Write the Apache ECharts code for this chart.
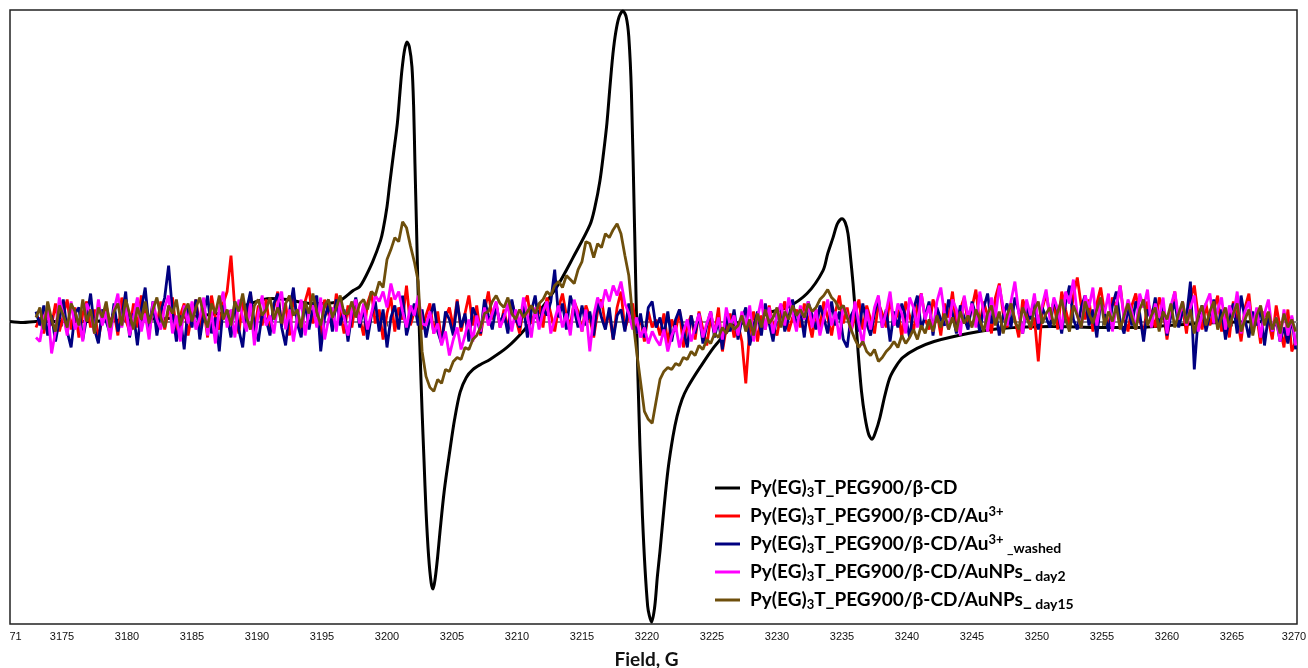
<!DOCTYPE html>
<html>
<head>
<meta charset="utf-8">
<script src="https://cdn.jsdelivr.net/npm/echarts@6/dist/echarts.min.js"></script>
<style>
html, body { margin: 0; padding: 0; background: #fff; }
#chart { width: 1308px; height: 668px; }
</style>
</head>
<body>
<div id="chart"></div>
<script>
// x axis ticks (G)
var tickValues = [3171, 3175, 3180, 3185, 3190, 3195, 3200, 3205, 3210, 3215, 3220, 3225, 3230,
    3235, 3240, 3245, 3250, 3255, 3260, 3265, 3270];
var tickLabels = ['71', '3175', '3180', '3185', '3190', '3195', '3200', '3205', '3210', '3215', '3220',
    '3225', '3230', '3235', '3240', '3245', '3250', '3255', '3260', '3265', '3270'];

var seriesNames = [
    'Py(EG)3T_PEG900/β-CD',
    'Py(EG)3T_PEG900/β-CD/Au3+',
    'Py(EG)3T_PEG900/β-CD/Au3+_washed',
    'Py(EG)3T_PEG900/β-CD/AuNPs_day2',
    'Py(EG)3T_PEG900/β-CD/AuNPs_day15'
];
var legendLabels = [
    'Py(EG){sub|3}T_PEG900/β-CD',
    'Py(EG){sub|3}T_PEG900/β-CD/Au{sup|3+}',
    'Py(EG){sub|3}T_PEG900/β-CD/Au{sup|3+}{small| _washed}',
    'Py(EG){sub|3}T_PEG900/β-CD/AuNPs_{small| day2}',
    'Py(EG){sub|3}T_PEG900/β-CD/AuNPs_{small| day15}'
];

// black trace, field / signal (arb. units)
var blackField = [3171.0, 3172.0, 3173.0, 3175.0, 3177.0, 3179.0, 3181.0, 3183.0, 3185.0, 3187.0, 3188.0,
    3189.5, 3191.0, 3192.3, 3194.1, 3195.4, 3196.4, 3197.4, 3197.9, 3198.2, 3198.9, 3199.5, 3199.7,
    3200.0, 3200.2, 3200.5, 3200.8, 3201.0, 3201.15, 3201.35, 3201.54, 3201.72, 3201.92, 3202.05,
    3202.15, 3202.27, 3202.38, 3202.53, 3202.69, 3202.85, 3203.0, 3203.2, 3203.4, 3203.54, 3203.7,
    3203.9, 3204.08, 3204.4, 3204.85, 3205.2, 3205.62, 3206.1, 3206.62, 3207.2, 3207.92,
    3209.23, 3210.46, 3211.77, 3213.08, 3214.31, 3215.62, 3216.0, 3216.38, 3216.65,
    3216.92, 3217.15, 3217.38, 3217.6, 3217.85, 3218.15, 3218.4, 3218.6, 3218.8, 3219.05, 3219.3,
    3219.65, 3220.05, 3220.36, 3220.6, 3220.8, 3221.0, 3221.3, 3221.62, 3222.0,
    3222.31, 3222.7, 3223.08, 3224.08, 3225.38, 3227.15, 3227.92, 3229.23, 3230.77, 3232.31, 3233.54,
    3233.9, 3234.31, 3234.65, 3235.0, 3235.25, 3235.46, 3235.65, 3235.85, 3236.05, 3236.23, 3236.5,
    3236.77, 3237.05, 3237.31, 3237.6, 3237.92, 3238.3, 3238.69, 3239.2, 3239.69, 3240.77, 3242.08,
    3244.69, 3247.23, 3251.15, 3255.0, 3257.6, 3260.15, 3264.0, 3267.9];
var blackSignal = [0, -1, 0, 0, 0, 1, 2, 3, 5, 8, 10,
    18, 23, 22, 18, 18, 21, 31, 35, 41, 60, 81, 92,
    115, 137, 168, 199, 230, 252, 272, 280, 275, 255, 215,
    158, 95, 35, -25, -87, -140, -189, -235, -262, -268, -258,
    -235, -210, -170, -128, -98, -71, -56, -48, -43, -38,
    -26, -10, 11, 35, 64, 97, 115, 141, 168,
    199, 235, 268, 290, 305, 311, 305, 285, 230, 90, -55,
    -195, -285, -301, -285, -255, -230, -188, -148, -115,
    -95, -78, -67, -46, -22, -1, -4, 8, 14, 28, 51,
    68, 84, 98, 103, 99, 88, 65, 38, 5, -29, -70,
    -96, -113, -118, -110, -96, -74, -56, -44, -36, -27, -20,
    -12, -7, -5, -6, -6, -4, -1, 0];

// noisy traces, sampled from 3173.0 G every 0.3 G
var noiseStart = 3173.0;
var noiseStep = 0.3;

var redSignal = [
    -6, 4, -12, 10, -4, 18, -10, 6, 22, -8, 14, -16, 8, 20, -6, 12, -18, 4, 16, -2,
    10, -14, 24, 2, -10, 18, -6, 26, 8, -12, 16, -4, 20, -8, 12, 24, -10, 6, 18, -14,
    8, 22, -6, 14, -16, 26, 4, -8, 18, 30, 66, 12, -12, 20, 2, 28, -10, 16, -4, 22,
    -8, 14, 30, -4, 18, -14, 24, 6, -10, 20, 34, -2, 12, -16, 22, 8, -6, 28, 10, -12,
    16, -6, 22, 4, -14, 18, 30, -2, 12, -18, 8, 24, -10, 14, 2, 36, -4, 10, 20, -8,
    6, 18, -12, 10, -20, 4, 14, -6, 22, -10, 8, 26, -4, 16, -14, 10, 30, 2, 18, -6,
    12, -8, 20, 4, -12, 16, 26, -2, 10, 18, -6, 24, 8, -10, 14, 28, 6, -4, 20, 10,
    -10, 16, 4, -16, 10, 22, -4, 8, -18, 14, 30, -8, 6, 18, -12, 4, -20, 10, -6, 2,
    -14, 8, -22, 2, -10, 12, -26, -4, 6, -18, 10, -8, -24, 4, -12, 14, -30, -6, 8, -16,
    -2, -20, -62, -8, 10, -20, 6, -8, 16, -4, -14, 8, 20, -10, 4, 12, -6, 18, 2, -16,
    12, -6, 20, 4, -14, 10, 26, -2, 14, -10, 6, 22, -8, 16, 2, -12, 18, 8, -6, 24,
    -4, 12, -16, 20, 6, -10, 16, 28, 2, -8, 22, 10, -14, 18, 4, 30, -6, 12, 24, -2,
    14, 32, -4, 20, 6, -12, 24, 38, 8, -6, 18, 2, -16, 22, 10, -8, 4, -40, 12, 28,
    6, 20, -8, 30, 12, -4, 26, 44, 16, 2, 22, -10, 18, 34, 8, -6, 24, 14, 36, 4,
    -10, 16, 28, 2, -14, 20, 8, -6, 24, 12, -18, 10, 30, -4, 14, -12, 22, 36, 6, -8,
    18, -4, 12, 26, -10, 8, -16, 20, 4, -20, 14, 28, -8, 6, -22, 10, 2, -18, 16, -6,
    -26, 12, -30, -20];

var navySignal = [
    10, -4, 16, -14, 6, -20, 2, 22, -10, -26, 8, 14, -18, 4, 28, -8, -22, 12, 0, -12,
    18, -10, 4, 30, -16, 8, -24, 12, 34, -6, 20, -14, 10, 24, 56, 10, -20, 6, -28, 14,
    -6, 22, -18, 8, 26, -12, 4, -30, 16, 6, -16, 20, -8, -26, 12, 30, -4, -20, 8, 2,
    -14, 18, 28, -6, -24, 10, 34, -2, -16, 20, -8, 14, 26, -30, 4, 16, -10, 22, -4, 12,
    -20, 8, 24, -6, 14, -18, 6, 20, -10, 12, -26, 4, 16, -8, 26, -14, 2, 18, -4, 12,
    -16, 4, 18, -10, -22, 10, 2, -14, 20, -6, 8, -20, 14, 4, -12, 22, 6, -8, 16, -2,
    8, -12, 22, 2, -6, 16, -16, 10, 26, -4, 14, 6, 20, 52, 4, 18, -8, 26, 12, -6,
    16, -4, 10, -14, 20, 4, -8, 14, -18, 6, 12, -10, 18, 2, -12, 8, -16, 14, 20, -6,
    4, -14, 10, -20, 2, 12, -8, -26, 6, -12, 8, -22, -4, 10, -16, 2, -28, 6, -10, 12,
    -18, 2, 14, -24, -6, 10, -14, 18, -2, -20, 8, 16, -10, 4, 22, -6, 12, -16, 20, 6,
    -8, 16, 4, -12, 20, -4, 10, -18, -26, 6, 14, -10, 18, -2, -14, 8, 24, -6, 12, -20,
    10, -6, 18, 4, -16, 12, 26, -8, 6, 20, -14, 14, 2, -4, 22, 8, -12, 16, 4, -8,
    20, 6, -10, 14, 28, -2, 12, -14, 6, 18, -6, 24, 10, -12, 16, 2, 20, -8, 14, 4,
    -6, 22, 10, -12, 18, 36, 2, -8, 14, 26, -4, 12, -16, 20, 8, -10, 16, 30, 0, -12,
    14, -4, 20, 8, -20, 12, 2, 24, -8, 16, -14, 6, 20, -6, 10, 4, 40, -48, 4, 16,
    -10, 8, 22, -6, 12, -18, 4, 18, -12, 26, 2, -16, 10, -4, 14, -24, 6, -10, 2, -20,
    -6, -22, 4, -28];

var magentaSignal = [
    -16, -20, 4, 14, -32, -10, 24, 6, -14, 20, -8, 2, -20, 18, 8, -12, 22, -4, 10, -18,
    12, 28, -6, 16, -14, 4, 24, -10, 8, -18, 20, 2, -8, 14, 26, -12, 6, -20, 16, -2,
    20, -8, 4, 24, -14, 10, -22, 14, 30, -6, 12, -16, 22, 4, -10, 18, -24, 8, 26, -4,
    6, -12, 18, 30, -8, 12, -20, 4, 22, -14, 10, 16, -6, 24, -18, 2, 14, -10, 20, 4,
    -14, 12, 22, -2, 18, -8, 8, 26, 20, 30, 14, 38, 22, 30, 10, -6, 16, 6, 26, -2,
    -4, 10, -12, -2, -24, -10, -34, -18, -6, -28, -14, 2, -20, 6, -10, 14, -4, 8, 20, -6,
    4, 18, -10, 12, -4, 24, 6, -16, 14, -8, 10, 20, -12, 2, 16, -6, 8, -14, 22, 4,
    -10, 12, -30, 6, 24, 14, 32, 20, 36, 26, 40, 18, 8, -8, 4, -16, -6, -22, -10, -18,
    -24, -8, -30, -14, -4, -26, -10, 2, -20, -6, 8, -16, -2, 10, -12, 4, -18, 14, -4, 6,
    -14, 10, -6, 16, -20, 4, 22, -8, 14, -12, 6, 18, -4, 24, 8, -10, 16, 2, 20, -6,
    12, -14, 4, 22, -4, 10, -18, 16, 6, -10, 20, -2, -24, 12, -8, 14, 26, -6, 10, 30,
    -4, 18, 8, -12, 24, 14, -6, 28, 2, 16, -10, 20, 34, 6, -8, 22, 12, -14, 26, 4,
    18, -6, 30, 10, -10, 24, 4, 36, 14, -4, 20, 40, 8, -12, 22, 6, 28, -2, 16, 32,
    2, 24, 12, -8, 30, 18, 42, 6, -6, 26, 14, 34, -4, 20, 8, 28, -10, 16, 36, 2,
    22, 10, -8, 28, 14, 32, -6, 18, 4, 24, -12, 16, 30, 2, 20, -4, 14, 26, -10, 8,
    18, 28, -2, 12, 24, -8, 16, 4, 30, -12, 10, 20, -6, 14, -16, 8, 22, -10, 4, -20,
    12, -14, 6, -24];

var brownSignal = [
    4, 14, -8, 20, 2, -10, 16, 6, -6, 18, 10, -4, 22, 0, 12, -12, 14, 4, 20, -6,
    10, 18, -4, 22, 8, -8, 14, 2, 20, -2, 12, 24, 4, -6, 16, 8, 22, -4, 10, 18,
    0, 14, 24, 6, -6, 18, 8, 26, 2, 12, -4, 20, 10, 28, 4, -8, 16, 22, 6, 12,
    24, 2, 14, -2, 18, 26, 6, 12, -6, 20, 8, 28, 10, -4, 16, 22, 4, 14, 26, 8,
    8, 20, 4, 18, 22, 12, 30, 26, 40, 34, 62, 72, 84, 80, 100, 94, 76, 60, 40, -30,
    -55, -66, -70, -58, -62, -48, -50, -40, -36, -38, -26, -28, -18, -14, -6, 8, 10, 20, 26, 18,
    14, 24, 8, 2, 12, 4, 10, 16, 8, 18, 22, 30, 26, 36, 40, 34, 46, 42, 38, 52,
    60, 80, 78, 64, 78, 74, 88, 84, 92, 98, 88, 66, 46, 4, -30, -60, -90, -98, -102, -80,
    -58, -50, -46, -48, -42, -44, -36, -38, -30, -34, -24, -28, -18, -22, -12, -16, -6, -12, -2, -8,
    -4, 6, -10, 2, -14, 8, -6, 12, -2, 4, 14, -6, 10, 2, 16, 6, 12, 4, 18, 10,
    14, 22, 26, 32, 24, 20, 12, 16, 4, -8, -18, -26, -20, -30, -34, -28, -40, -36, -30, -26,
    -20, -26, -14, -22, -16, -8, -18, -4, -12, 2, -10, 6, -6, 8, -8, 4, -10, 10, -2, 6,
    -6, 12, 2, -10, 8, 16, -4, 10, -12, 6, 18, 0, -8, 14, 4, -6, 12, 20, -2, 8,
    14, -4, 10, 22, 2, -10, 16, 6, -6, 20, 8, -2, 12, 24, -4, 10, 0, 16, -8, 6,
    18, 4, -8, 12, 22, -4, 6, 14, -10, 10, 2, 18, -6, 8, 20, -2, 12, -12, 6, 16,
    -4, 10, 20, -8, 4, 14, -6, 8, 18, -10, 2, 12, -14, 6, 16, -4, 10, -8, 4, -12,
    8, -6, 2, -10];

var colors = ['#000000', '#ff0000', '#000080', '#ff00ff', '#6e4f0c'];

function sweep(values)
{
    var out = [];
    for (var i = 0; i < values.length; i++)
        out.push([Math.round((noiseStart + i * noiseStep) * 10) / 10, values[i]]);
    return out;
}

function pairs(xs, ys)
{
    var out = [];
    for (var i = 0; i < xs.length; i++)
        out.push([xs[i], ys[i]]);
    return out;
}

function trace(idx, data, smooth, width)
{
    return {
        name: seriesNames[idx],
        type: 'line',
        data: data,
        showSymbol: false,
        smooth: smooth,
        itemStyle: { color: colors[idx] },
        lineStyle: { color: colors[idx], width: width },
        z: 2 + idx
    };
}

var myChart = echarts.init(document.getElementById('chart'));

var option = {
    animation: false,
    backgroundColor: '#fff',
    grid: {
        left: 10, right: 11, top: 10, bottom: 44,
        outerBoundsMode: 'none',
        show: true, borderColor: '#222', borderWidth: 1.5
    },
    legend: {
        orient: 'vertical',
        left: 715, top: 477,
        padding: 0,
        itemGap: 6,
        itemWidth: 25, itemHeight: 3,
        icon: 'rect',
        data: seriesNames,
        formatter: function (name) {
            return legendLabels[seriesNames.indexOf(name)];
        },
        textStyle: {
            fontFamily: 'Lato', fontWeight: 'bold', fontSize: 19, color: '#000', lineHeight: 22,
            padding: [0, 0, 0, 5],
            rich: {
                sub: { fontFamily: 'Lato', fontWeight: 'bold', fontSize: 13, lineHeight: 13, verticalAlign: 'bottom', color: '#000' },
                sup: { fontFamily: 'Lato', fontWeight: 'bold', fontSize: 13, lineHeight: 13, verticalAlign: 'top', color: '#000' },
                small: { fontFamily: 'Lato', fontWeight: 'bold', fontSize: 14, lineHeight: 20, verticalAlign: 'bottom', color: '#000' }
            }
        }
    },
    xAxis: {
        type: 'value',
        min: 3171, max: 3270,
        name: 'Field, G',
        nameLocation: 'middle',
        nameGap: 26,
        nameTextStyle: { fontFamily: 'Lato', fontWeight: 'bold', fontSize: 19, color: '#111', padding: [0, 14, 0, 0] },
        axisLine: { lineStyle: { color: '#888', width: 2 } },
        axisTick: { show: true, customValues: tickValues, length: 5, lineStyle: { color: '#555', width: 1 } },
        axisLabel: {
            customValues: tickValues,
            margin: 7,
            fontFamily: 'Liberation Sans', fontSize: 11, color: '#111',
            formatter: function (v) {
                var k = tickValues.indexOf(v);
                if (k === 0) return '{first|' + tickLabels[k] + '}';
                if (k === tickValues.length - 1) return '{last|' + tickLabels[k] + '}';
                return tickLabels[k];
            },
            rich: {
                first: { fontFamily: 'Liberation Sans', fontSize: 11, color: '#111', padding: [0, 0, 0, 11] },
                last: { fontFamily: 'Liberation Sans', fontSize: 11, color: '#111', padding: [0, 6, 0, 0] }
            }
        },
        splitLine: { show: false }
    },
    yAxis: {
        type: 'value',
        min: -303, max: 312,
        show: false
    },
    series: [
        trace(1, sweep(redSignal), false, 2.8),
        trace(2, sweep(navySignal), false, 2.8),
        trace(3, sweep(magentaSignal), false, 2.8),
        trace(4, sweep(brownSignal), false, 2.8),
        trace(0, pairs(blackField, blackSignal), 0.3, 3)
    ]
};

myChart.setOption(option);
</script>
</body>
</html>
